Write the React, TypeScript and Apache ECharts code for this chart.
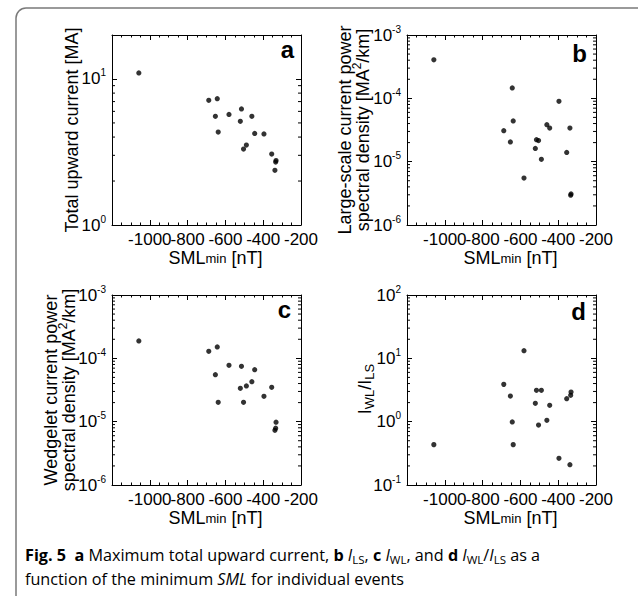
import React, { useEffect, useRef } from "react";
import * as echarts from "echarts";

// ---- data ----
const smlMin = [-1058, -688, -643, -653, -638, -581, -515, -521, -460, -445, -396, -489, -504, -355, -332, -334, -338];
const totalUpwardCurrent = [11.0, 7.14, 7.33, 5.55, 4.33, 5.72, 6.23, 5.13, 5.55, 4.24, 4.2, 3.53, 3.31, 3.06, 2.76, 2.7, 2.37];
const largeScalePSD = [4.05e-4, 3.08e-5, 1.46e-4, 2.05e-5, 4.39e-5, 5.52e-6, 2.22e-5, 1.62e-5, 3.84e-5, 3.4e-5, 8.97e-5, 1.09e-5, 2.15e-5, 1.4e-5, 3.1e-6, 2.95e-6, 3.4e-5];
const wedgeletPSD = [1.88e-4, 1.29e-4, 1.51e-4, 5.52e-5, 2.02e-5, 7.75e-5, 7.48e-5, 3.36e-5, 4.28e-5, 6.62e-5, 2.51e-5, 3.66e-5, 2.02e-5, 3.48e-5, 9.8e-6, 7.9e-6, 7.3e-6];
const ratioWLtoLS = [0.434, 3.88, 0.99, 2.54, 0.434, 13.2, 3.12, 1.95, 1.05, 1.81, 0.264, 3.12, 0.885, 2.31, 2.94, 2.61, 0.209];

const xMin = -1200;
const xMax = -200;
const xStep = 200;
const yMins = [1, 1e-6, 1e-6, 0.1];
const yMaxs = [20, 1e-3, 1e-3, 100];
const minorMultipliers = [2, 3, 4, 5, 6, 7, 8, 9];
const decadesA = [1];
const decadesBC = [1e-6, 1e-5, 1e-4];
const decadesD = [0.1, 1, 10];
const panelLetters = ["a", "b", "c", "d"];

// ---- layout ----
const FONT = "'Liberation Sans', Arial, Helvetica, sans-serif";
const CAP_FONT = "'Open Sans', 'Noto Sans', sans-serif";
const gridPos = [
  { left: 112, top: 35 },
  { left: 407, top: 35 },
  { left: 112, top: 295 },
  { left: 407, top: 295 },
];
const GW = 189;
const GH = 190;

const powLabel = (v: number) => {
  const l = Math.log10(v);
  const e = Math.round(l);
  if (Math.abs(l - e) > 1e-6) return "";
  return `{b|10}{s|${e}}`;
};

export default function App() {
  const ref = useRef<HTMLDivElement>(null);
  useEffect(() => {
    if (!ref.current) return;
    const chart = echarts.init(ref.current, undefined, { renderer: "svg" });
    const values = [totalUpwardCurrent, largeScalePSD, wedgeletPSD, ratioWLtoLS];
    const decades = [decadesA, decadesBC, decadesBC, decadesD];
    const minorTicks = decades.map((ds) => {
      const out: number[] = [];
      ds.forEach((d) => minorMultipliers.forEach((m) => out.push(d * m)));
      return out;
    });

    const grid: any[] = [];
    const xAxis: any[] = [];
    const yAxis: any[] = [];
    const series: any[] = [];

    gridPos.forEach((g, k) => {
      grid.push({
        left: g.left,
        top: g.top,
        width: GW,
        height: GH,
        show: false,
        outerBoundsMode: "none",
      });
      const xBase = {
        type: "value",
        gridIndex: k,
        min: xMin,
        max: xMax,
        interval: xStep,
        splitLine: { show: false },
        axisLine: { show: true, onZero: false, lineStyle: { color: "#000", width: 1 } },
        axisTick: { show: true, inside: true, length: 5, lineStyle: { color: "#000" } },
        minorTick: { show: true, splitNumber: 4, length: 2.5, lineStyle: { color: "#000" } },
        minorSplitLine: { show: false },
      };
      xAxis.push({
        ...xBase,
        position: "bottom",
        axisLabel: {
          show: true,
          margin: 6,
          color: "#000",
          fontSize: 17,
          fontFamily: FONT,
          formatter: (v: number) => (v === xMin ? "" : String(v)),
        },
      });
      xAxis.push({ ...xBase, position: "top", axisLabel: { show: false } });

      const yBase = {
        type: "log",
        logBase: 10,
        gridIndex: k,
        min: yMins[k],
        max: yMaxs[k],
        splitLine: { show: false },
        axisLine: { show: true, onZero: false, lineStyle: { color: "#000", width: 1 } },
        axisTick: { show: true, inside: true, length: 5, lineStyle: { color: "#000" } },
        minorTick: { show: false },
      };
      yAxis.push({
        ...yBase,
        position: "left",
        axisLabel: {
          show: true,
          margin: 6,
          color: "#000",
          fontFamily: FONT,
          formatter: powLabel,
          rich: {
            b: { fontSize: 17, lineHeight: 22, fontFamily: FONT, color: "#000" },
            s: { fontSize: 10, lineHeight: 10, verticalAlign: "top", fontFamily: FONT, color: "#000" },
          },
        },
      });
      yAxis.push({ ...yBase, position: "right", axisLabel: { show: false } });

      series.push({
        type: "scatter",
        xAxisIndex: 2 * k,
        yAxisIndex: 2 * k,
        symbol: "circle",
        symbolSize: 5.2,
        itemStyle: { color: "#000" },
        data: smlMin.map((x, i) => [x, values[k][i]]),
      });
      series.push({
        type: "custom",
        xAxisIndex: 2 * k,
        yAxisIndex: 2 * k,
        silent: true,
        data: minorTicks[k].map((v) => [xMin, v]),
        encode: { x: 0, y: 1 },
        renderItem: (params: any, api: any) => {
          const y = api.value(1);
          const p0 = api.coord([xMin, y]);
          const p1 = api.coord([xMax, y]);
          return {
            type: "group",
            children: [
              { type: "line", shape: { x1: p0[0], y1: p0[1], x2: p0[0] + 3, y2: p0[1] }, style: { stroke: "#000", lineWidth: 1 } },
              { type: "line", shape: { x1: p1[0] - 3, y1: p1[1], x2: p1[0], y2: p1[1] }, style: { stroke: "#000", lineWidth: 1 } },
            ],
          };
        },
      });
    });

    const txt = (x: number, y: number, text: string, extra: any = {}, rot = 0, rich: any = undefined) => ({
      type: "text",
      x,
      y,
      rotation: rot,
      silent: true,
      style: {
        text,
        fill: "#000",
        fontFamily: FONT,
        fontSize: 18,
        align: "center",
        verticalAlign: "middle",
        rich,
        ...extra,
      },
    });

    const letterPos = [
      [294, 49],
      [587, 53],
      [291, 309],
      [586, 311],
    ];
    const subRich = {
      s: { fontSize: 13, fontFamily: FONT, color: "#000", lineHeight: 14, verticalAlign: "bottom" },
      m: { fontSize: 18, fontFamily: FONT, color: "#000", lineHeight: 22 },
    };
    const minRich = {
      s: { fontSize: 13, fontFamily: FONT, color: "#000", lineHeight: 22, verticalAlign: "middle" },
      m: { fontSize: 18, fontFamily: FONT, color: "#000", lineHeight: 22 },
    };
    const supRich = {
      u: { fontSize: 12, fontFamily: FONT, color: "#000", lineHeight: 12, verticalAlign: "top" },
      m: { fontSize: 18, fontFamily: FONT, color: "#000", lineHeight: 24 },
    };

    const CS = 16.2;
    const capRich = {
      bo: { fontFamily: CAP_FONT, fontSize: CS, fontWeight: "bold", color: "#231f20", lineHeight: 21 },
      n: { fontFamily: CAP_FONT, fontSize: CS, color: "#231f20", lineHeight: 21 },
      it: { fontFamily: CAP_FONT, fontSize: CS, fontStyle: "italic", color: "#231f20", lineHeight: 21 },
      sb: { fontFamily: CAP_FONT, fontSize: 11.5, color: "#231f20", lineHeight: 13, verticalAlign: "bottom" },
    };

    const graphic: any[] = [
      {
        type: "rect",
        silent: true,
        shape: { x: 16, y: 8, width: 660, height: 600, r: 10 },
        style: { fill: "none", stroke: "#7a7a7a", lineWidth: 1.5 },
      },
      ...panelLetters.map((l, k) =>
        txt(letterPos[k][0], letterPos[k][1], l, { fontSize: 24, fontWeight: "bold", align: "right" })
      ),
      // y titles
      txt(72, 130, "Total upward current [MA]", {}, Math.PI / 2),
      txt(345, 130, "Large-scale current power", {}, Math.PI / 2),
      txt(363, 130, "{m|spectral density [MA}{u|2}{m|/km]}", {}, Math.PI / 2, supRich),
      txt(51, 390, "Wedgelet current power", {}, Math.PI / 2),
      txt(69, 390, "{m|spectral density [MA}{u|2}{m|/km]}", {}, Math.PI / 2, supRich),
      txt(365, 389, "{m|I}{s|WL}{m|/I}{s|LS}", {}, Math.PI / 2, subRich),
      // x titles
      ...gridPos.map((g) =>
        txt(g.left + GW / 2 + 9, g.top + 223, "{m|SML}{s|min}{m| [nT]}", {}, 0, minRich)
      ),
      // caption
      {
        type: "text",
        x: 25,
        y: 555,
        silent: true,
        style: {
          text:
            "{bo|Fig. 5}{n|  }{bo|a}{n| Maximum total upward current, }{bo|b}{n| }{it|I}{sb|LS}{n|, }{bo|c}{n| }{it|I}{sb|WL}{n|, and }{bo|d}{n| }{it|I}{sb|WL}{n|/}{it|I}{sb|LS}{n| as a}",
          rich: capRich,
          align: "left",
          verticalAlign: "middle",
        },
      },
      {
        type: "text",
        x: 25,
        y: 579,
        silent: true,
        style: {
          text: "{n|function of the minimum }{it|SML}{n| for individual events}",
          rich: capRich,
          align: "left",
          verticalAlign: "middle",
        },
      },
    ];

    chart.setOption({
      animation: false,
      backgroundColor: "#fff",
      grid,
      xAxis,
      yAxis,
      series,
      graphic,
    });
    return () => chart.dispose();
  }, []);

  return (
    <div
      ref={ref}
      style={{ position: "absolute", left: 0, top: 0, width: 638, height: 596, background: "#fff" }}
    />
  );
}
